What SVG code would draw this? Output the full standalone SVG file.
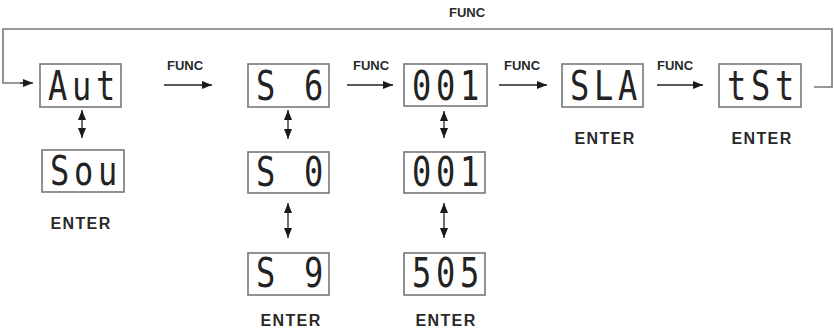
<svg xmlns="http://www.w3.org/2000/svg" width="834" height="328" viewBox="0 0 834 328">
<style>
.box{fill:#fff;stroke:#777;stroke-width:1.6}
.seg{font-family:"DejaVu Sans Mono","Liberation Mono",monospace;font-size:40px;letter-spacing:6px;fill:#222;text-anchor:middle}
.lbl{font-family:"Liberation Sans",Arial,sans-serif;font-weight:bold;fill:#2a2a2a;text-anchor:middle}
.func{font-size:13px}
.enter{font-size:16px;letter-spacing:1.4px}
.ln{fill:none;stroke:#222;stroke-width:1.3}
.loop{fill:none;stroke:#777;stroke-width:1.6}
</style>
<defs>
<marker id="ah" viewBox="0 0 10 8" refX="10" refY="4" markerWidth="10" markerHeight="8" markerUnits="userSpaceOnUse" orient="auto-start-reverse">
<path d="M0,0 L10,4 L0,8 z" fill="#1a1a1a"/>
</marker>
</defs>
<g id="connectors">
<path class="loop" d="M814 87 H832 V29 H3 V83 H24"/>
<path class="ln" d="M20 83 H33" marker-end="url(#ah)"/>
<path class="ln" d="M164 85 H212" marker-end="url(#ah)"/>
<path class="ln" d="M347 85 H393" marker-end="url(#ah)"/>
<path class="ln" d="M499 85 H547" marker-end="url(#ah)"/>
<path class="ln" d="M657 85 H703" marker-end="url(#ah)"/>
<path class="ln" d="M82 110 V138" marker-start="url(#ah)" marker-end="url(#ah)"/>
<path class="ln" d="M288 110 V139" marker-start="url(#ah)" marker-end="url(#ah)"/>
<path class="ln" d="M444 111 V138" marker-start="url(#ah)" marker-end="url(#ah)"/>
<path class="ln" d="M288 203 V238" marker-start="url(#ah)" marker-end="url(#ah)"/>
<path class="ln" d="M444 203 V238" marker-start="url(#ah)" marker-end="url(#ah)"/>
<text class="lbl func" x="467" y="17">FUNC</text>
<text class="lbl func" x="185" y="70">FUNC</text>
<text class="lbl func" x="371" y="70">FUNC</text>
<text class="lbl func" x="522" y="70">FUNC</text>
<text class="lbl func" x="675" y="70">FUNC</text>
</g>
<g id="node-aut">
<rect class="box" x="40" y="64" width="81" height="43"/>
<text class="seg" transform="translate(84 100) scale(0.8 1)" x="0" y="0">Aut</text>
</g>
<g id="node-sou">
<rect class="box" x="42" y="150" width="82" height="42"/>
<text class="seg" transform="translate(86 185) scale(0.8 1)" x="0" y="0">Sou</text>
<text class="lbl enter" x="81" y="229">ENTER</text>
</g>
<g id="node-s6">
<rect class="box" x="248" y="64" width="81" height="43"/>
<text class="seg" transform="translate(292 100) scale(0.8 1)" x="0" y="0" xml:space="preserve">S 6</text>
</g>
<g id="node-s0">
<rect class="box" x="248" y="152" width="81" height="41"/>
<text class="seg" transform="translate(292 186) scale(0.8 1)" x="0" y="0" xml:space="preserve">S 0</text>
</g>
<g id="node-s9">
<rect class="box" x="248" y="253" width="81" height="42"/>
<text class="seg" transform="translate(292 287) scale(0.8 1)" x="0" y="0" xml:space="preserve">S 9</text>
<text class="lbl enter" x="291" y="326">ENTER</text>
</g>
<g id="node-001">
<rect class="box" x="404" y="64" width="83" height="42"/>
<text class="seg" transform="translate(448 100) scale(0.8 1)" x="0" y="0">001</text>
</g>
<g id="node-001b">
<rect class="box" x="404" y="152" width="81" height="41"/>
<text class="seg" transform="translate(448 186) scale(0.8 1)" x="0" y="0">001</text>
</g>
<g id="node-505">
<rect class="box" x="404" y="253" width="81" height="42"/>
<text class="seg" transform="translate(448 287) scale(0.8 1)" x="0" y="0">505</text>
<text class="lbl enter" x="446" y="326">ENTER</text>
</g>
<g id="node-sla">
<rect class="box" x="562" y="64" width="81" height="43"/>
<text class="seg" transform="translate(606 100) scale(0.8 1)" x="0" y="0">SLA</text>
<text class="lbl enter" x="605" y="144">ENTER</text>
</g>
<g id="node-tst">
<rect class="box" x="719" y="64" width="82" height="43"/>
<text class="seg" transform="translate(763 100) scale(0.8 1)" x="0" y="0">tSt</text>
<text class="lbl enter" x="762" y="144">ENTER</text>
</g>
</svg>
